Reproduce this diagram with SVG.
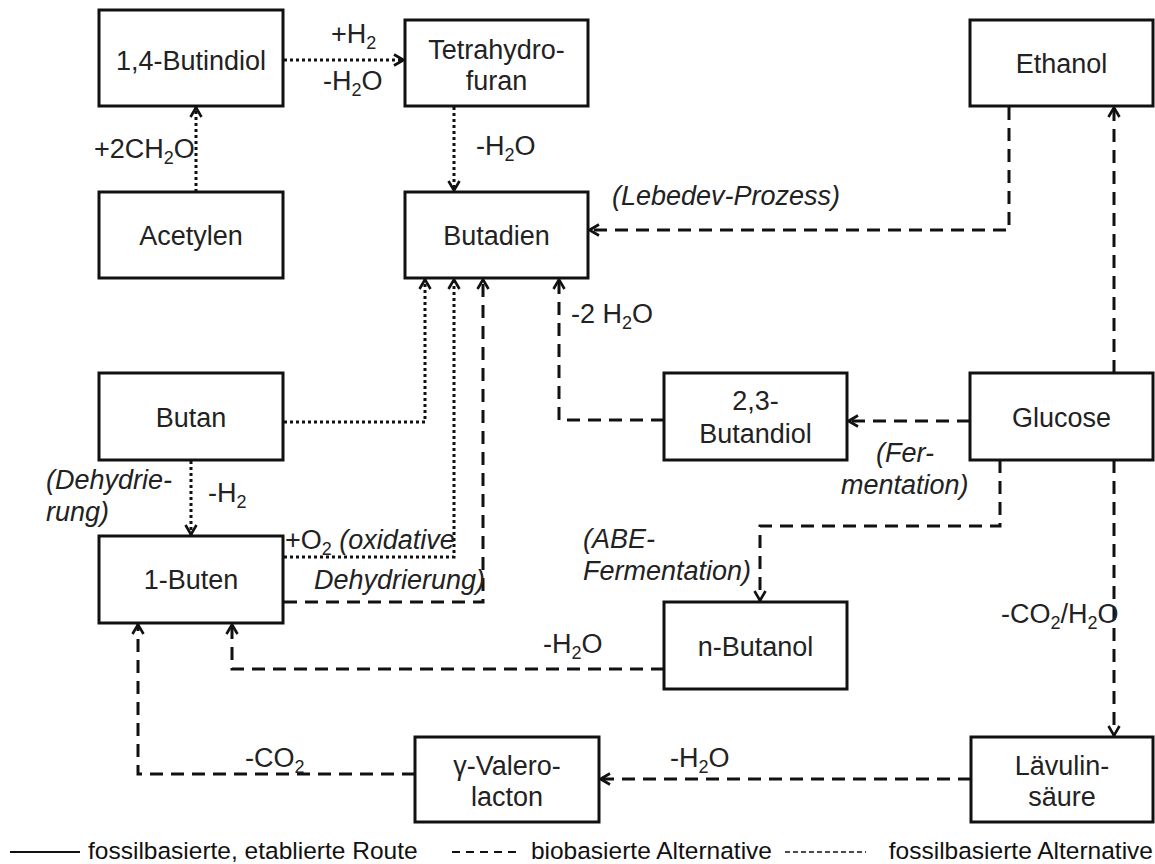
<svg xmlns="http://www.w3.org/2000/svg" width="1155" height="864" viewBox="0 0 1155 864">
<style>
.box{fill:#fff;stroke:#111;stroke-width:3}
.t{font-family:"Liberation Sans",Arial,sans-serif;font-size:27px;fill:#222}
.c{text-anchor:middle}
.i{font-style:italic}
.dash{fill:none;stroke:#111;stroke-width:3;stroke-dasharray:13 8}
.dot{fill:none;stroke:#111;stroke-width:3;stroke-dasharray:3 3}
.lg{font-family:"Liberation Sans",Arial,sans-serif;font-size:24.5px;fill:#111}
</style>
<defs>
<marker id="ah" viewBox="0 0 12 14" refX="11" refY="7" markerWidth="12" markerHeight="14" markerUnits="userSpaceOnUse" orient="auto">
<path d="M1,1.5 L10.5,7 L1,12.5" fill="none" stroke="#111" stroke-width="2.6" stroke-dasharray="none"/>
</marker>
</defs>
<rect width="1155" height="864" fill="#fff"/>
<g id="connectors">
<path class="dot" d="M196,192 L196,107" marker-end="url(#ah)"/>
<path class="dot" d="M284,60 L404,60" marker-end="url(#ah)"/>
<path class="dot" d="M454,107 L454,191" marker-end="url(#ah)"/>
<path class="dash" d="M1009,107 L1009,230 L589,230" marker-end="url(#ah)"/>
<path class="dash" d="M1114,373 L1114,107" marker-end="url(#ah)"/>
<path class="dot" d="M284,422 L425,422 L425,279" marker-end="url(#ah)"/>
<path class="dot" d="M191,461 L191,535" marker-end="url(#ah)"/>
<path class="dot" d="M284,557 L454,557 L454,279" marker-end="url(#ah)"/>
<path class="dash" d="M284,602 L483,602 L483,279" marker-end="url(#ah)"/>
<path class="dash" d="M664,420 L559,420 L559,279" marker-end="url(#ah)"/>
<path class="dash" d="M970,421 L848,421" marker-end="url(#ah)"/>
<path class="dash" d="M1000,460 L1000,526 L760,526 L760,601" marker-end="url(#ah)"/>
<path class="dash" d="M1114,460 L1114,736" marker-end="url(#ah)"/>
<path class="dash" d="M664,669 L232,669 L232,624" marker-end="url(#ah)"/>
<path class="dash" d="M415,774 L138,774 L138,624" marker-end="url(#ah)"/>
<path class="dash" d="M971,779 L600,779" marker-end="url(#ah)"/>
</g>
<g id="n-butindiol"><rect class="box" x="99" y="10" width="184" height="96"/><text class="t c" x="191" y="70">1,4-Butindiol</text></g>
<g id="n-thf"><rect class="box" x="405" y="20" width="183" height="86"/><text class="t c" x="496.5" y="59">Tetrahydro-</text><text class="t c" x="496.5" y="90">furan</text></g>
<g id="n-ethanol"><rect class="box" x="970" y="20" width="183" height="86"/><text class="t c" x="1061.5" y="73">Ethanol</text></g>
<g id="n-acetylen"><rect class="box" x="99" y="192" width="184" height="86"/><text class="t c" x="191" y="245">Acetylen</text></g>
<g id="n-butadien"><rect class="box" x="405" y="192" width="183" height="86"/><text class="t c" x="496.5" y="245">Butadien</text></g>
<g id="n-butan"><rect class="box" x="99" y="373" width="184" height="87"/><text class="t c" x="191" y="427">Butan</text></g>
<g id="n-butandiol"><rect class="box" x="664" y="373" width="183" height="87"/><text class="t c" x="755.5" y="410">2,3-</text><text class="t c" x="755.5" y="443">Butandiol</text></g>
<g id="n-glucose"><rect class="box" x="970" y="373" width="183" height="87"/><text class="t c" x="1061.5" y="427">Glucose</text></g>
<g id="n-buten"><rect class="box" x="99" y="536" width="184" height="87"/><text class="t c" x="191" y="589">1-Buten</text></g>
<g id="n-butanol"><rect class="box" x="664" y="602" width="183" height="87"/><text class="t c" x="755.5" y="656">n-Butanol</text></g>
<g id="n-gvl"><rect class="box" x="415" y="737" width="184" height="85"/><text class="t c" x="507" y="775">γ-Valero-</text><text class="t c" x="507" y="806">lacton</text></g>
<g id="n-lev"><rect class="box" x="971" y="737" width="182" height="85"/><text class="t c" x="1062" y="775">Lävulin-</text><text class="t c" x="1062" y="806">säure</text></g>
<g id="labels">
<text class="t" x="331" y="43">+H<tspan dy="6" font-size="18">2</tspan></text>
<text class="t" x="323" y="90">-H<tspan dy="6" font-size="18">2</tspan><tspan dy="-6">O</tspan></text>
<text class="t" x="94" y="158">+2CH<tspan dy="6" font-size="18">2</tspan><tspan dy="-6">O</tspan></text>
<text class="t" x="476" y="155">-H<tspan dy="6" font-size="18">2</tspan><tspan dy="-6">O</tspan></text>
<text class="t i" x="612" y="205">(Lebedev-Prozess)</text>
<text class="t" x="571" y="323">-2 H<tspan dy="6" font-size="18">2</tspan><tspan dy="-6">O</tspan></text>
<text class="t i" x="46" y="489">(Dehydrie-</text>
<text class="t i" x="46" y="521">rung)</text>
<text class="t" x="208" y="502">-H<tspan dy="6" font-size="18">2</tspan></text>
<text class="t" x="285" y="549">+O<tspan dy="6" font-size="18">2</tspan><tspan dy="-6" font-style="italic"> (oxidative</tspan></text>
<text class="t i" x="314" y="589">Dehydrierung)</text>
<text class="t i" x="876" y="462">(Fer-</text>
<text class="t i" x="841" y="494">mentation)</text>
<text class="t i" x="583" y="548">(ABE-</text>
<text class="t i" x="583" y="580">Fermentation)</text>
<text class="t" x="1001" y="623">-CO<tspan dy="6" font-size="18">2</tspan><tspan dy="-6">/H</tspan><tspan dy="6" font-size="18">2</tspan><tspan dy="-6">O</tspan></text>
<text class="t" x="543" y="653">-H<tspan dy="6" font-size="18">2</tspan><tspan dy="-6">O</tspan></text>
<text class="t" x="245" y="767">-CO<tspan dy="6" font-size="18">2</tspan></text>
<text class="t" x="670" y="767">-H<tspan dy="6" font-size="18">2</tspan><tspan dy="-6">O</tspan></text>
</g>
<g id="legend">
<line x1="10" y1="852" x2="80" y2="852" stroke="#111" stroke-width="2"/>
<text class="lg" x="88" y="859">fossilbasierte, etablierte Route</text>
<line x1="452" y1="852" x2="522" y2="852" stroke="#111" stroke-width="2" stroke-dasharray="8 6"/>
<text class="lg" x="772" y="859" text-anchor="end">biobasierte Alternative</text>
<line x1="785" y1="852" x2="866" y2="852" stroke="#111" stroke-width="1.6" stroke-dasharray="5 3"/>
<text class="lg" x="1153" y="859" text-anchor="end">fossilbasierte Alternative</text>
</g>
</svg>
